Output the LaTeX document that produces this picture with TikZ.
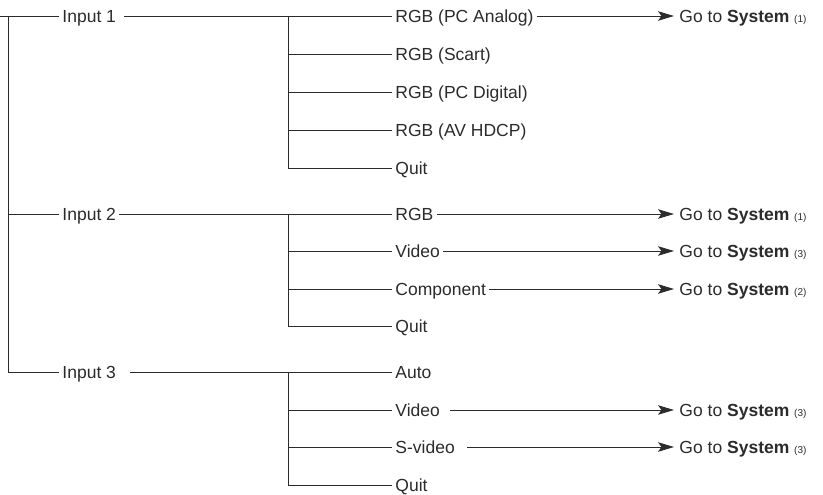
\documentclass[tikz,border=0pt]{standalone}
\usepackage{fontspec}
\setmainfont{Liberation Sans}
\usetikzlibrary{positioning}
\usetikzlibrary{arrows.meta}
\definecolor{ink}{HTML}{2B2B2B}
\tikzset{lbl/.style = {anchor=west, inner xsep=3pt, inner ysep=0pt, text height=12.5pt, text depth=0pt, text=ink, font=\fontsize{17.5}{20}\selectfont}}
\tikzset{goto/.style = {lbl, inner xsep=5pt}}
\tikzset{to/.style = {-{Stealth[length=16pt, width=9.5pt, inset=3.5pt]}}}
\newcommand{\gosys}[1]{Go to \textbf{System} {\fontsize{10}{12}\selectfont(#1)}}
\tikzset{every picture/.style={
    every path/.style={line width=0.9pt},
}}

\begin{document}
\begin{tikzpicture}[x=1pt, y=-1pt, color=ink]
      \useasboundingbox (0,0) rectangle (823,495);
      \coordinate (s) at (0,16);
      \node[lbl] (in1) at (59,16) {Input 1\kern5pt};
      \node[lbl] (in2) at (59,214) {Input 2};
      \node[lbl] (in3) at (59,372) {Input 3\kern11pt};
      \draw (s) -- (in1.west);
      \draw (8,16) -- (8,372) -- (in3.west);
      \draw (8,214) -- (in2.west);

      \node[lbl] (a1) at (392,16) {RGB (PC Analog)};
      \node[lbl] (a2) at (392,54) {RGB (Scart)};
      \node[lbl] (a3) at (392,92) {RGB (PC Digital)};
      \node[lbl] (a4) at (392,130) {RGB (AV HDCP)};
      \node[lbl] (a5) at (392,168) {Quit};
      \draw (in1.east) -- (a1.west);
      \draw (288,16) -- (288,168) -- (a5.west);
      \draw (288,54) -- (a2.west);
      \draw (288,92) -- (a3.west);
      \draw (288,130) -- (a4.west);

      \node[lbl] (b1) at (392,214) {RGB};
      \node[lbl] (b2) at (392,251) {Video};
      \node[lbl] (b3) at (392,289) {Component};
      \node[lbl] (b4) at (392,326) {Quit};
      \draw (in2.east) -- (b1.west);
      \draw (288,214) -- (288,326) -- (b4.west);
      \draw (288,251) -- (b2.west);
      \draw (288,289) -- (b3.west);

      \node[lbl] (c1) at (392,372) {Auto};
      \node[lbl] (c2) at (392,410) {Video\kern7pt};
      \node[lbl] (c3) at (392,447) {S-video\kern9pt};
      \node[lbl] (c4) at (392,485) {Quit};
      \draw (in3.east) -- (c1.west);
      \draw (288,372) -- (288,485) -- (c4.west);
      \draw (288,410) -- (c2.west);
      \draw (288,447) -- (c3.west);

      \node[goto] (g1) at (674,16) {\gosys{1}};
      \node[goto] (g2) at (674,214) {\gosys{1}};
      \node[goto] (g3) at (674,251) {\gosys{3}};
      \node[goto] (g4) at (674,289) {\gosys{2}};
      \node[goto] (g5) at (674,410) {\gosys{3}};
      \node[goto] (g6) at (674,447) {\gosys{3}};
      \draw[to] (a1) -- (g1);
      \draw[to] (b1) -- (g2);
      \draw[to] (b2) -- (g3);
      \draw[to] (b3) -- (g4);
      \draw[to] (c2) -- (g5);
      \draw[to] (c3) -- (g6);
\end{tikzpicture}
\end{document}
